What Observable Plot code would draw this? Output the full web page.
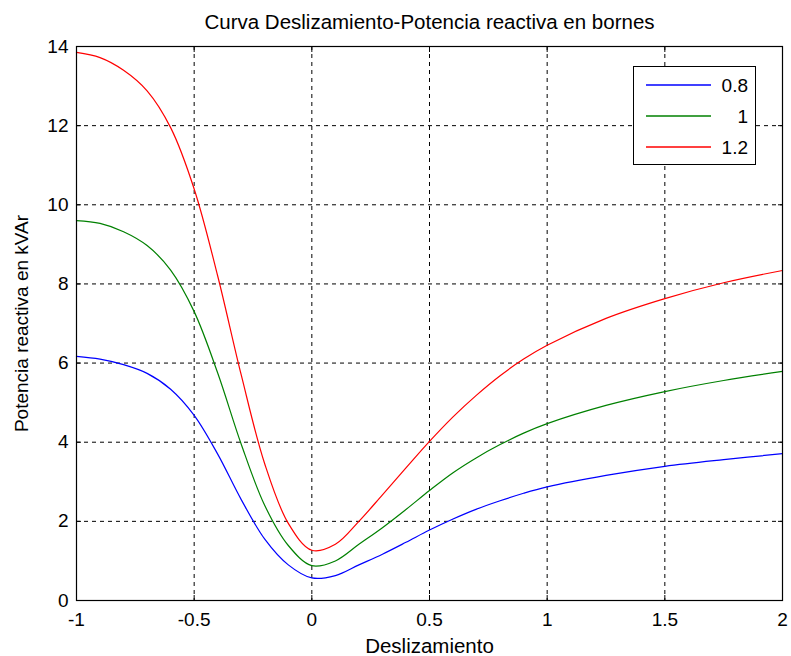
<!DOCTYPE html>
<html><head><meta charset="utf-8">
<script src="https://cdn.jsdelivr.net/npm/d3@7"></script>
<script src="https://cdn.jsdelivr.net/npm/@observablehq/plot@0.6"></script>
<style>
body{margin:0;background:#fff;}
#wrap{position:relative;width:791px;height:656px;font-family:"Liberation Sans",Arial,sans-serif;}
#legend{position:absolute;left:633px;top:66px;width:123px;height:99px;border:1px solid #000;background:#fff;box-sizing:border-box;}
</style></head>
<body><div id="wrap"></div>
<script>
const slip = [-1,-0.9,-0.8,-0.7,-0.6,-0.5,-0.4,-0.3,-0.2,-0.1,0,0.1,0.2,0.3,0.4,0.5,0.6,0.7,0.8,0.9,1.0,1.25,1.5,1.75,2.0];
const q08  = [6.17,6.1,5.96,5.74,5.34,4.68,3.7,2.55,1.55,0.9,0.57,0.63,0.9,1.17,1.47,1.78,2.06,2.31,2.52,2.71,2.87,3.16,3.39,3.56,3.71];
const q10  = [9.6,9.53,9.32,8.97,8.35,7.3,5.75,3.95,2.4,1.39,0.88,1.0,1.42,1.84,2.3,2.78,3.23,3.61,3.94,4.23,4.47,4.93,5.28,5.56,5.79];
const q12  = [13.85,13.72,13.4,12.88,11.95,10.4,8.2,5.7,3.45,1.95,1.27,1.42,2.0,2.67,3.35,4.02,4.64,5.19,5.68,6.1,6.45,7.13,7.63,8.03,8.34];
const seriesNames = ["0.8","1","1.2"];
const seriesColors = ["#0000ff","#008000","#ff0000"];
const xTicks = [-1,-0.5,0,0.5,1,1.5,2];
const yTicks = [0,2,4,6,8,10,12,14];
const title = "Curva Deslizamiento-Potencia reactiva en bornes";
const xLabel = "Deslizamiento";
const yLabel = "Potencia reactiva en kVAr";

const data = [];
[q08,q10,q12].forEach((arr,k)=>arr.forEach((v,i)=>data.push({s:slip[i],q:v,series:seriesNames[k]})));

const font = '"Liberation Sans",Arial,sans-serif';
const plot = Plot.plot({
  width:791, height:656,
  marginLeft:76, marginRight:9, marginTop:46, marginBottom:56,
  style:{fontFamily:font, fontSize:"19px", color:"#000", background:"#fff", overflow:"visible"},
  x:{domain:[-1,2]},
  y:{domain:[0,14]},
  color:{domain:seriesNames, range:seriesColors},
  marks:[
    Plot.gridX(xTicks,{stroke:"#000",strokeOpacity:1,strokeDasharray:"4,4",strokeWidth:1}),
    Plot.gridY(yTicks,{stroke:"#000",strokeOpacity:1,strokeDasharray:"4,4",strokeWidth:1}),
    Plot.axisX(xTicks,{anchor:"bottom",tickSize:-5,tickPadding:17,tickFormat:d=>String(d),label:null,fontSize:19}),
    Plot.axisX({anchor:"bottom",ticks:[],label:xLabel,labelAnchor:"center",labelArrow:"none",labelOffset:52,fontSize:20.5}),
    Plot.axisX(xTicks,{anchor:"top",tickSize:-5,tickFormat:()=>"",label:null}),
    Plot.axisY(yTicks,{anchor:"left",tickSize:-5,tickPadding:13,tickFormat:d=>String(d),label:yLabel,labelAnchor:"center",labelArrow:"none",labelOffset:62,fontSize:19}),
    Plot.axisY(yTicks,{anchor:"right",tickSize:-5,tickFormat:()=>"",label:null}),
    Plot.line(data,{x:"s",y:"q",stroke:"series",strokeWidth:1.2,curve:"catmull-rom"}),
    Plot.frame({stroke:"#000",strokeWidth:1.2}),
    Plot.text([title],{frameAnchor:"top",lineAnchor:"middle",dy:-24,fontSize:20.5,fill:"#000"})
  ]
});
const wrap = document.getElementById("wrap");
wrap.appendChild(plot);

const leg = document.createElement("div");
leg.id="legend";
let html = '<svg width="121" height="97" style="font-family:'+font.replace(/"/g,"'")+'">';
seriesNames.forEach((n,i)=>{
  const y = 18 + i*31;
  html += `<line x1="12" x2="77" y1="${y}" y2="${y}" stroke="${seriesColors[i]}" stroke-width="1.3"/>`;
  html += `<text x="114" y="${y}" dy="0.35em" text-anchor="end" font-size="19">${n}</text>`;
});
html += '</svg>';
leg.innerHTML = html;
wrap.appendChild(leg);
</script></body></html>
